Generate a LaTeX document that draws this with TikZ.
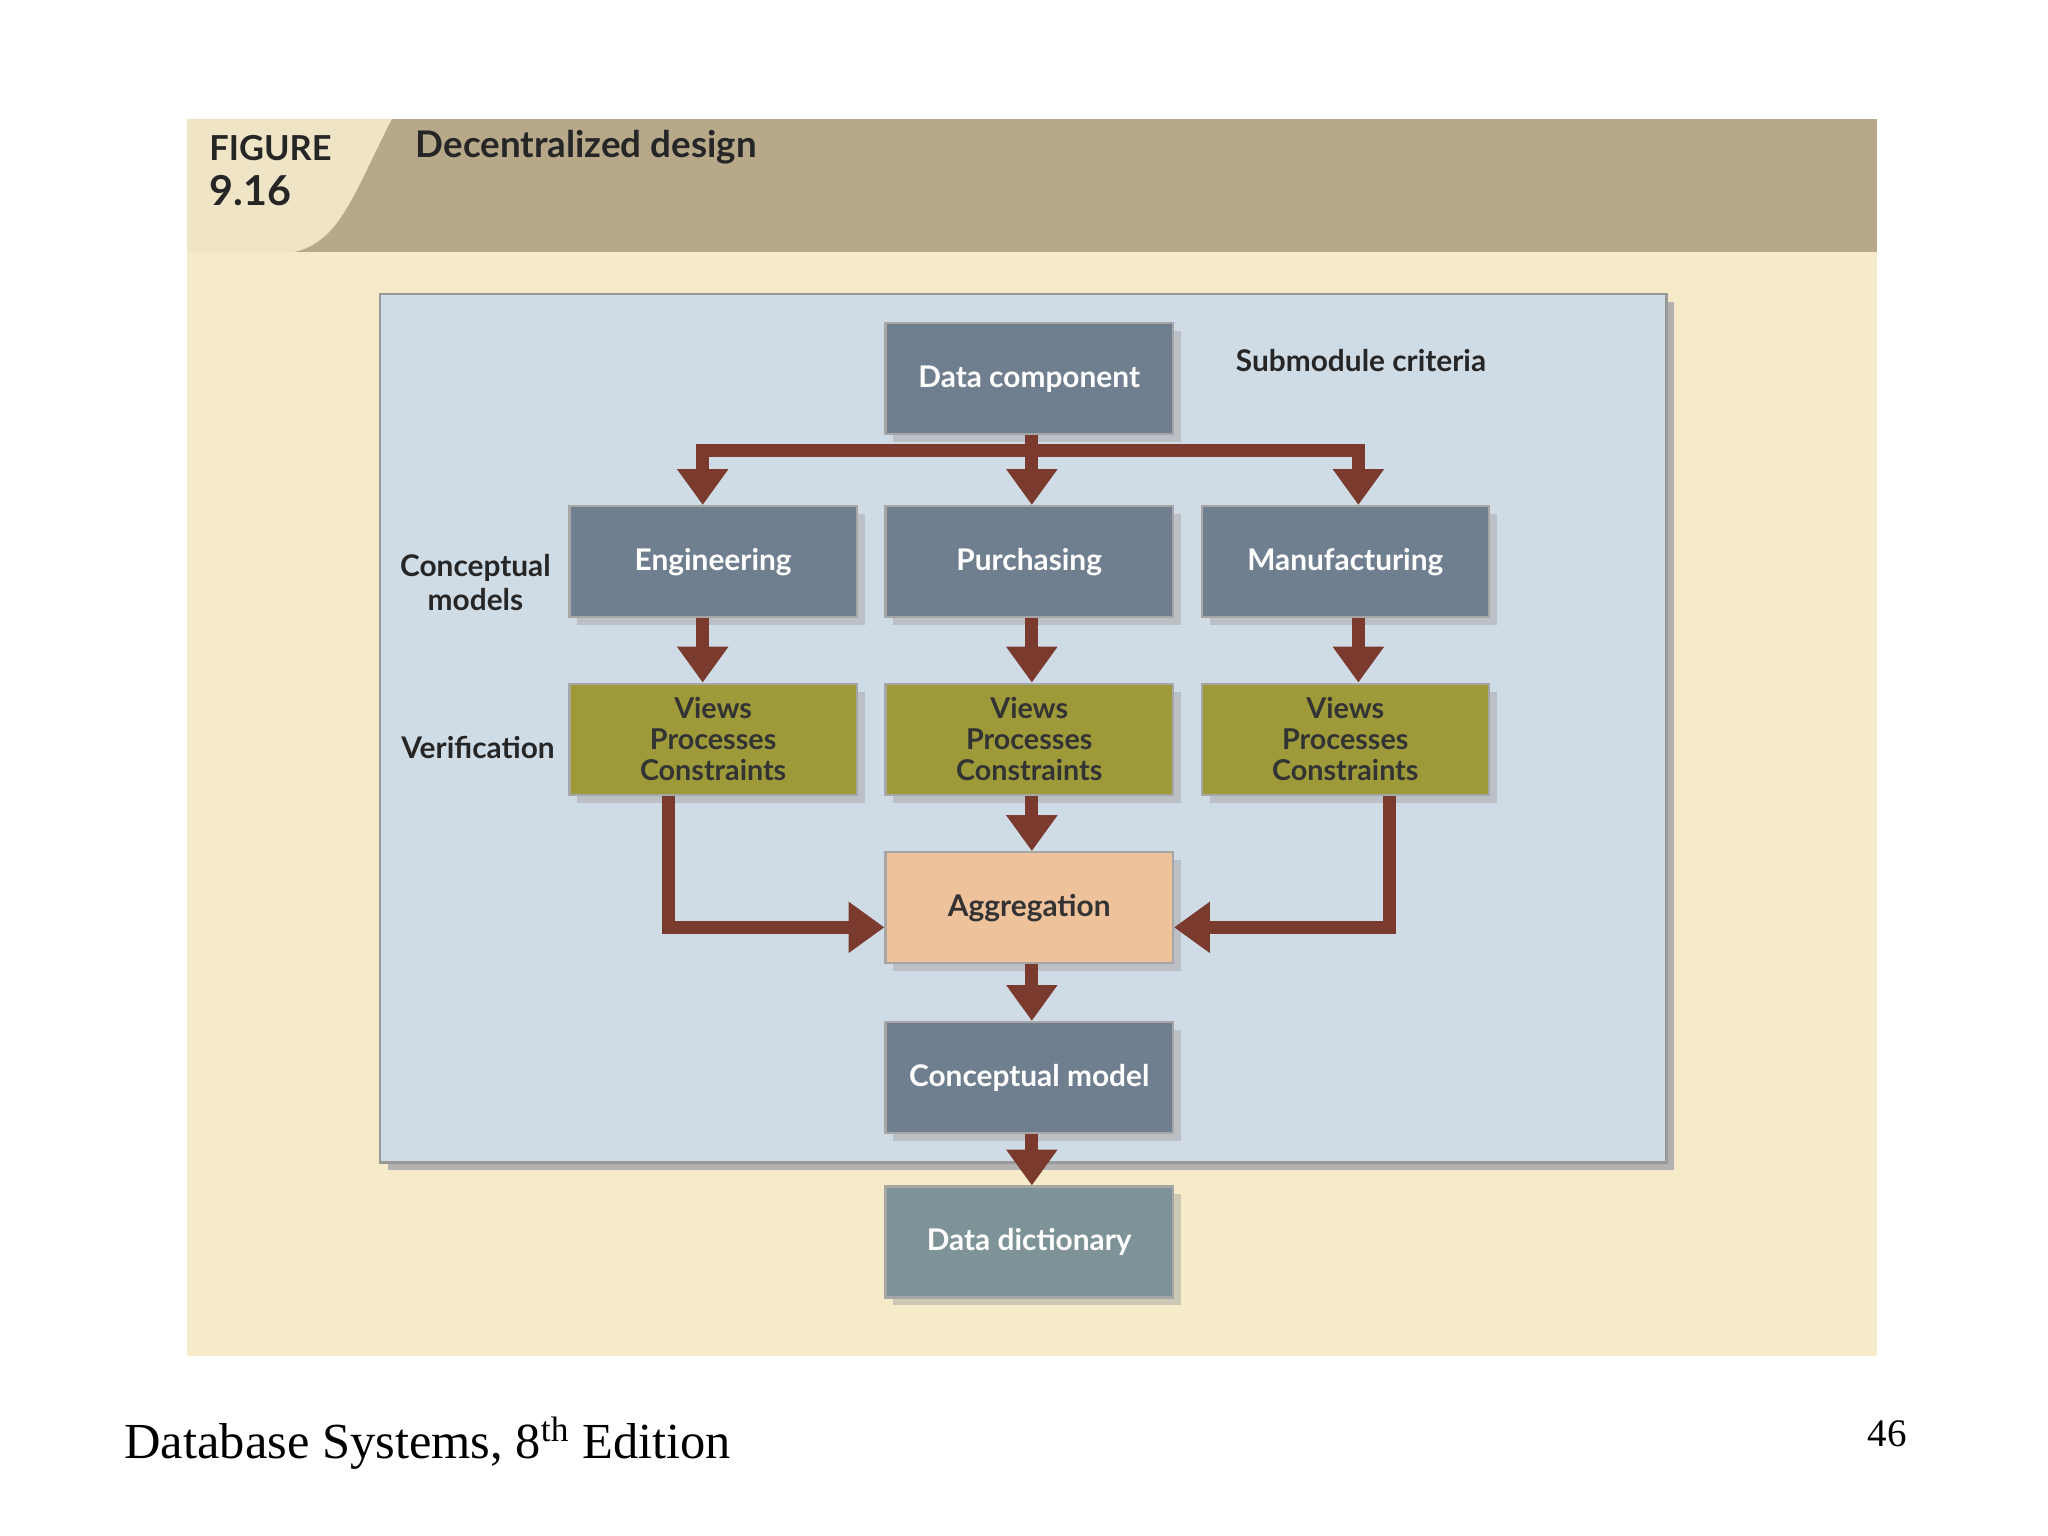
\documentclass[tikz,border=0pt]{standalone}
\usepackage{fontspec}
\setmainfont{Lato}
\newfontfamily\seriffont{Liberation Serif}
\usetikzlibrary{arrows.meta,shadows}
\definecolor{cream}{HTML}{F5EBC8}
\definecolor{tab}{HTML}{EFE5C6}
\definecolor{tan}{HTML}{B8A88A}
\definecolor{panel}{HTML}{CFDCE6}
\definecolor{slate}{HTML}{6F7F90}
\definecolor{olive}{HTML}{9E9A3A}
\definecolor{peach}{HTML}{EEC29A}
\definecolor{teal}{HTML}{7E9397}
\definecolor{arr}{HTML}{7A3A2E}
\tikzset{
 box/.style={minimum width=4.4cm,minimum height=1.7cm,draw=black!35,line width=1pt,
   drop shadow={shadow xshift=0.12cm,shadow yshift=-0.12cm,fill=black!35},
   font=\fontsize{13}{15}\selectfont\bfseries,text=white,align=center,inner sep=2pt},
 sbox/.style={box,fill=slate},
 vbox/.style={box,fill=olive,text=black!80,font=\fontsize{12.5}{13.5}\selectfont\bfseries},
 lab/.style={font=\fontsize{13}{15}\selectfont\bfseries,text=black!85,align=center},
 conn/.style={draw=arr,line width=0.2cm,-{Triangle[length=0.55cm,width=0.75cm]}},
 seg/.style={draw=arr,line width=0.2cm}
}
\begin{document}
\begin{tikzpicture}[x=0.02cm,y=-0.02cm]
\useasboundingbox (0,0) rectangle (1568,1176);
\fill[white] (0,0) rectangle (1568,1176);
\fill[cream] (143,91) rectangle (1437,1038);
\fill[tan] (143,91) rectangle (1437,193);
\fill[tab] (143,91) -- (300,91) .. controls (270,150) and (260,185) .. (225,193) -- (143,193) -- cycle;
\node[anchor=west,font=\fontsize{15}{17}\selectfont\bfseries,text=black!85,inner sep=0] (fig) at (160,113) {FIGURE};
\node[anchor=west,font=\fontsize{18}{20}\selectfont\bfseries,text=black!85,inner sep=0] (num) at (160,146) {9.16};
\node[anchor=west,font=\fontsize{16}{18}\selectfont\bfseries,text=black!85,inner sep=0] (ttl) at (318,113) {Decentralized design};
\fill[black!30] (297,231) rectangle (1282,896);
\filldraw[fill=panel,draw=black!40,line width=1pt] (291,225) rectangle (1276,890);
\node[sbox] (dc) at (788,290) {Data component};
\node[sbox] (eng) at (546,430) {Engineering};
\node[sbox] (pur) at (788,430) {Purchasing};
\node[sbox] (man) at (1030,430) {Manufacturing};
\node[vbox] (v1) at (546,566) {Views\\Processes\\Constraints};
\node[vbox] (v2) at (788,566) {Views\\Processes\\Constraints};
\node[vbox] (v3) at (1030,566) {Views\\Processes\\Constraints};
\node[box,fill=peach,text=black!80] (agg) at (788,695) {Aggregation};
\node[sbox] (cm) at (788,825) {Conceptual model};
\node[box,fill=teal] (dd) at (788,951) {Data dictionary};
\node[lab] (sub) at (1042,276) {Submodule criteria};
\node[lab] (cml) at (364,446) {Conceptual\\models};
\node[lab] (ver) at (366,572) {Verification};
\coordinate (hl) at (538,345);
\coordinate (hr) at (1040,345);
\coordinate (hc) at (790,345);
\draw[seg] (dc.south -| hc) -- (hc);
\draw[seg] ([xshift=-0.1cm]hl) -- ([xshift=0.1cm]hr);
\draw[conn] (hl) -- (hl |- eng.north);
\draw[conn] (hc) -- (hc |- pur.north);
\draw[conn] (hr) -- (hr |- man.north);
\draw[conn] (eng.south -| hl) -- (hl |- v1.north);
\draw[conn] (pur.south -| hc) -- (hc |- v2.north);
\draw[conn] (man.south -| hr) -- (hr |- v3.north);
\coordinate (l1) at (512,710);
\coordinate (r1) at (1064,710);
\draw[conn] (v1.south -| l1) -- (l1) -- (agg.west |- l1);
\draw[conn] (v3.south -| r1) -- (r1) -- (agg.east |- r1);
\draw[conn] (v2.south -| hc) -- (hc |- agg.north);
\draw[conn] (agg.south -| hc) -- (hc |- cm.north);
\draw[conn] (cm.south -| hc) -- (hc |- dd.north);
\node[anchor=west,font=\seriffont\fontsize{22}{24}\selectfont,inner sep=0] (foot) at (95,1105) {Database Systems, 8\textsuperscript{th} Edition};
\node[font=\seriffont\fontsize{17}{19}\selectfont,inner sep=0] (pg) at (1445,1098) {46};
\end{tikzpicture}
\end{document}
